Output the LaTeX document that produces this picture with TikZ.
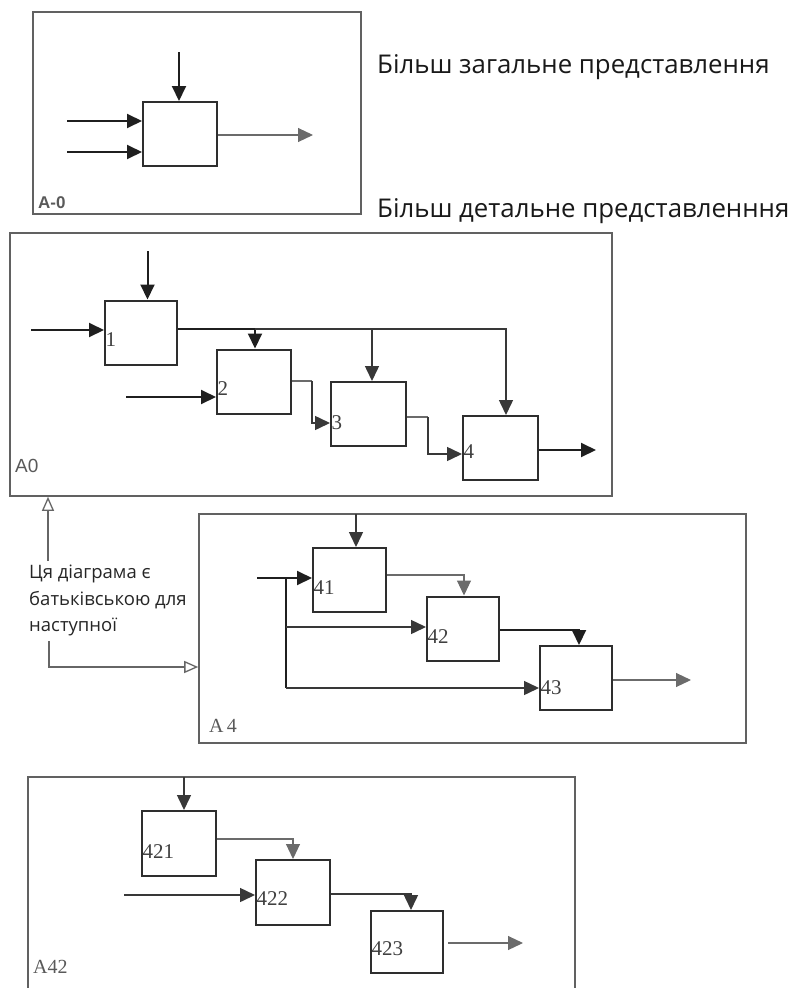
\documentclass[tikz,border=0pt]{standalone}
\usepackage{fontspec}
\setmainfont{Liberation Serif}
\newfontfamily\uifont{Open Sans}
\newfontfamily\lblsans{Liberation Sans}
\usetikzlibrary{arrows.meta}
\tikzset{
  frame/.style={draw=black!62, line width=1.6pt},
  blk/.style={draw=black!82, line width=2pt, minimum width=73pt, minimum height=64pt, inner sep=0pt},
  num/.style={font=\fontsize{21}{21}\selectfont, text=black!75, inner sep=1.5pt},
  tip/.style={-{Triangle[length=15pt,width=14pt]}},
  thk/.style={draw=black!88, line width=2pt},
  mid/.style={draw=black!78, line width=1.5pt},
  thn/.style={draw=black!58, line width=1.1pt},
  hol/.style={draw=black!60, line width=1.5pt, -{Triangle[open,length=14pt,width=12pt,line width=1.3pt]}},
  flabel/.style={anchor=base west, text=black!65, inner sep=0pt},
  title/.style={anchor=base west, inner sep=0pt, font=\uifont\fontsize{25.8}{30}\selectfont, text=black!90}
}
\begin{document}
\begin{tikzpicture}[x=1pt,y=-1pt]
\useasboundingbox (0,0) rectangle (791,988);
% ---------- titles ----------
\node[title] (ttop) at (377,73) {Більш загальне представлення};
\node[title] (tdet) at (377,217) {Більш детальне представленння};
% ---------- A-0 ----------
\node[frame, minimum width=328pt, minimum height=202pt, inner sep=0pt] (fAm) at (197,113) {};
\node[flabel, font=\lblsans\bfseries\fontsize{17}{17}\selectfont] (lAm) at (38,208) {A-0};
\node[blk, minimum width=74pt] (m) at (180,134) {};
\coordinate (mtop) at (179,52);
\coordinate (min1) at (67,121);
\coordinate (min2) at (67,152);
\coordinate (mout) at (313,135);
\draw[thk,tip] (mtop) -- (mtop |- m.north);
\draw[thk,tip] (min1) -- (min1 -| m.west);
\draw[thk,tip] (min2) -- (min2 -| m.west);
\draw[thn,tip] (m.east |- mout) -- (mout);
% ---------- A0 ----------
\node[frame, minimum width=602pt, minimum height=263pt, inner sep=0pt] (fA0) at (311,364.5) {};
\node[flabel, font=\lblsans\fontsize{19}{19}\selectfont] (lA0) at (15,472) {A0};
\node[blk, minimum width=72pt, label={[num,anchor=west,yshift=-7pt]west:1}] (b1) at (141,332.5) {};
\node[blk, minimum width=74pt, label={[num,anchor=west,yshift=-7pt]west:2}] (b2) at (254,381.5) {};
\node[blk, minimum width=75pt, label={[num,anchor=west,yshift=-9pt]west:3}] (b3) at (368.5,414) {};
\node[blk, minimum width=75pt, label={[num,anchor=west,yshift=-4pt]west:4}] (b4) at (500.5,448) {};
\coordinate (t1) at (147.5,251);
\coordinate (in1) at (31,330);
\coordinate (in2) at (126,397);
\coordinate (j2) at (255,329);
\coordinate (j3) at (372,329);
\coordinate (j4) at (506,329);
\coordinate (k23) at (312,381);
\coordinate (e23) at (312,423);
\coordinate (k34) at (428,417);
\coordinate (e34) at (428,454);
\coordinate (o4) at (596,450);
\draw[thk,tip] (t1) -- (t1 |- b1.north);
\draw[thk,tip] (in1) -- (in1 -| b1.west);
\draw[thk,tip] (in2) -- (in2 -| b2.west);
\draw[thk,tip] (b1.east |- j2) -- (j2) -- (j2 |- b2.north);
\draw[mid,tip] (j2) -- (j4) -- (j4 |- b4.north);
\draw[mid,tip] (j3) -- (j3 |- b3.north);
\draw[thn] (b2.east |- k23) -- (k23);
\draw[mid,tip] (k23) -- (e23) -- (e23 -| b3.west);
\draw[thn] (b3.east |- k34) -- (k34);
\draw[mid,tip] (k34) -- (e34) -- (e34 -| b4.west);
\draw[thk,tip] (b4.east |- o4) -- (o4);
% ---------- note ----------
\node[anchor=north west, inner sep=0pt, align=left, font=\uifont\fontsize{18.5}{26.5}\selectfont, text=black!85] (note) at (29,565) {Ця діаграма є\\батьківською для\\наступної};
\coordinate (s1) at (48,561);
\coordinate (s2) at (49,641);
\coordinate (s3) at (49,667);
% ---------- A4 ----------
\node[frame, minimum width=547pt, minimum height=229pt, inner sep=0pt] (fA4) at (472.5,628.5) {};
\node[flabel, font=\fontsize{20}{20}\selectfont] (lA4) at (209,732) {A\,4};
\node[blk, label={[num,anchor=west,yshift=-8pt]west:41}] (b41) at (349.5,580) {};
\node[blk, minimum width=72pt, label={[num,anchor=west,yshift=-8pt]west:42}] (b42) at (463,628.5) {};
\node[blk, minimum width=72pt, label={[num,anchor=west,yshift=-10pt]west:43}] (b43) at (576,678) {};
\coordinate (t41) at (356,514);
\coordinate (i4) at (257,578);
\coordinate (br) at (286,578);
\coordinate (br42) at (286,627);
\coordinate (br43) at (286,688);
\coordinate (k412) at (464,575);
\coordinate (k423) at (579,630);
\coordinate (o43) at (691,680);
\draw[mid,tip] (t41) -- (t41 |- b41.north);
\draw[thk,tip] (i4) -- (i4 -| b41.west);
\draw[thk] (br) -- (br43);
\draw[mid,tip] (br42) -- (br42 -| b42.west);
\draw[mid,tip] (br43) -- (br43 -| b43.west);
\draw[thn,tip] (b41.east |- k412) -- (k412) -- (k412 |- b42.north);
\draw[thk,tip] (b42.east |- k423) -- (k423) -- (k423 |- b43.north);
\draw[thn,tip] (b43.east |- o43) -- (o43);
\draw[hol] (s1) -- (s1 |- fA0.south);
\draw[hol] (s2) -- (s3) -- (s3 -| fA4.west);
% ---------- A42 ----------
\draw[frame] (28,995) -- (28,777) -- (575,777) -- (575,995);
\node[flabel, font=\fontsize{20}{20}\selectfont] (lA42) at (33,973) {A42};
\node[blk, minimum width=74pt, minimum height=65pt, label={[num,anchor=west,yshift=-8pt]west:421}] (b421) at (179,843.5) {};
\node[blk, minimum width=74pt, minimum height=65pt, label={[num,anchor=west,yshift=-6pt]west:422}] (b422) at (293,892.5) {};
\node[blk, minimum width=72pt, minimum height=62pt, label={[num,anchor=west,yshift=-7pt]west:423}] (b423) at (407,942) {};
\coordinate (t421) at (184,777);
\coordinate (k4212) at (293,839);
\coordinate (i422) at (124,895);
\coordinate (k4223) at (411,894);
\coordinate (o423) at (523,943);
\draw[mid,tip] (t421) -- (t421 |- b421.north);
\draw[thn,tip] (b421.east |- k4212) -- (k4212) -- (k4212 |- b422.north);
\draw[mid,tip] (i422) -- (i422 -| b422.west);
\draw[mid,tip] (b422.east |- k4223) -- (k4223) -- (k4223 |- b423.north);
\draw[thn,tip] ([xshift=4pt]b423.east |- o423) -- (o423);
\end{tikzpicture}
\end{document}
